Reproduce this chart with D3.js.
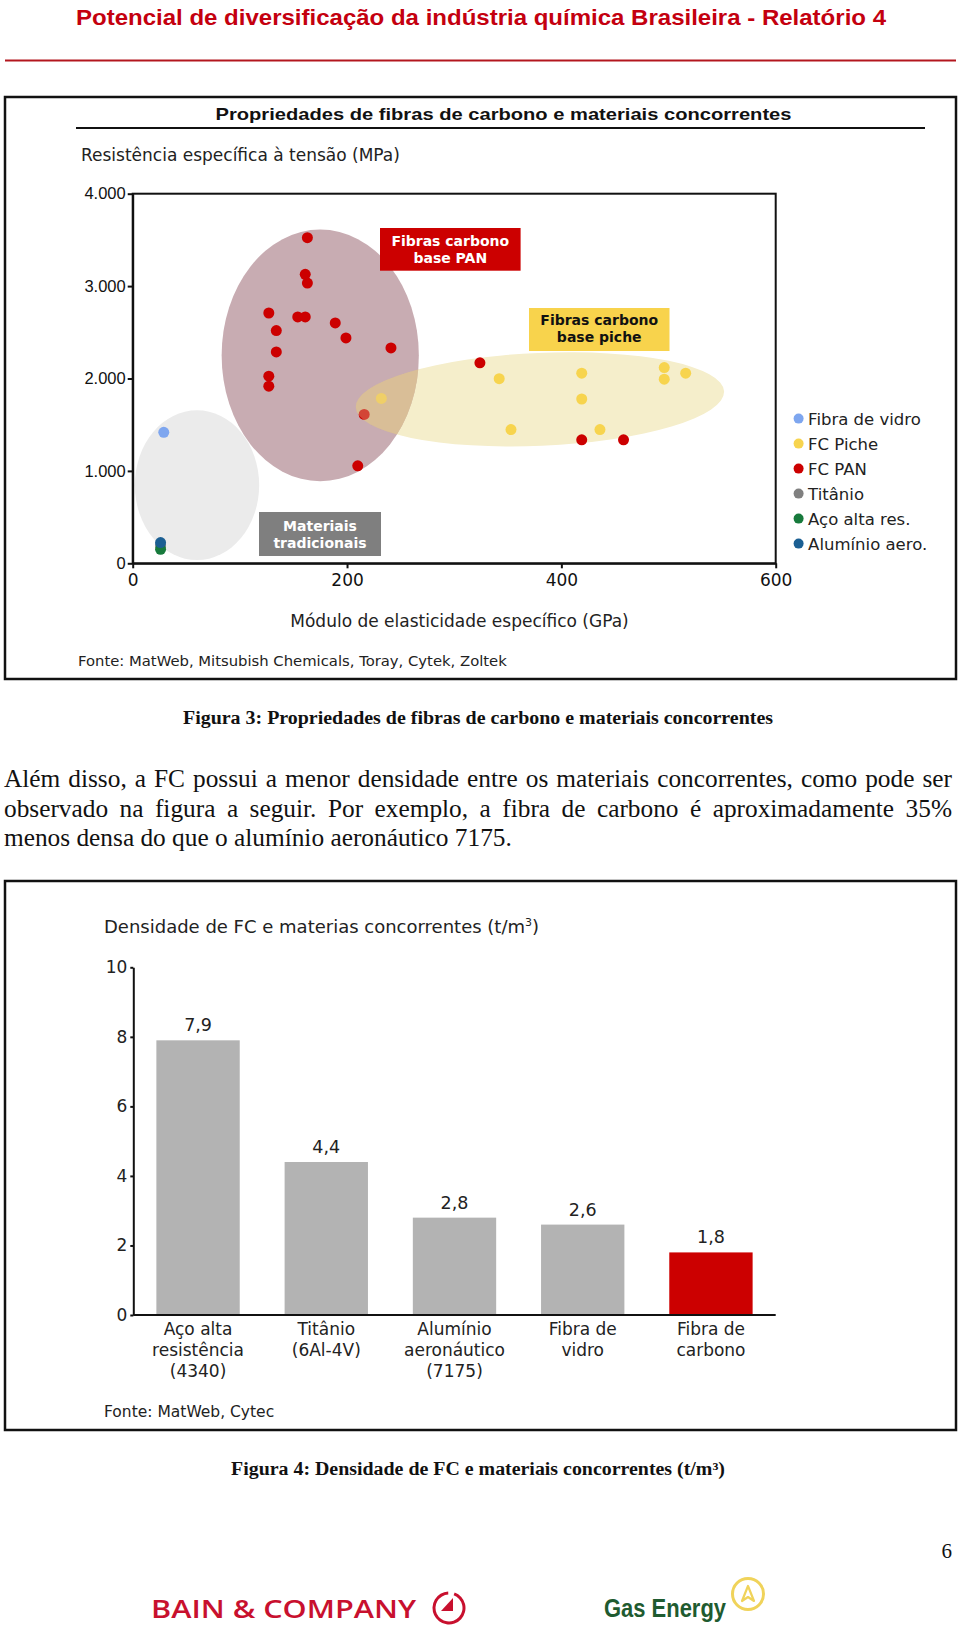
<!DOCTYPE html>
<html><head><meta charset="utf-8">
<script src="https://cdn.jsdelivr.net/npm/d3@7"></script>
<style>body{margin:0;background:#fff}svg{display:block}</style>
</head><body>
<svg id="page" width="960" height="1632"></svg>
<script>
// ---------- DATA ----------
// Figure 3 (scatter): [specific modulus GPa, specific tensile strength MPa]
const xTicks = [0, 200, 400, 600];
const yTicks = [0, 1000, 2000, 3000, 4000];
const yTickLabels = ["0", "1.000", "2.000", "3.000", "4.000"];
const fibraVidro = [[29, 1418]];
const fcPiche = [[342, 1998], [419, 2058], [496, 2118], [496, 1993], [516, 2058], [419, 1778], [232, 1784], [353, 1447], [436, 1447]];
const fcPan = [[163, 3524], [161, 3127], [163, 3033], [127, 2709], [134, 2519], [134, 2288], [127, 2025], [127, 1917], [154, 2666], [161, 2666], [189, 2601], [199, 2439], [241, 2331], [324, 2170], [216, 1611], [210, 1055], [419, 1336], [458, 1336]];
const titanio = [[26, 190]];
const acoAltaRes = [[26, 152]];
const aluminioAero = [[26, 224]];
const seriesNames = ["Fibra de vidro", "FC Piche", "FC PAN", "Titânio", "Aço alta res.", "Alumínio aero."];
// grouping ellipses: [centerX, centerY, radiusX, radiusY] in data units
const ellipseTradicionais = [60, 846, 58, 811];
const ellipsePan = [175, 2250, 92, 1362];
const ellipsePiche = [380, 1774, 172, 503];

// Figure 4 (bars)
const barCategories = [["Aço alta", "resistência", "(4340)"], ["Titânio", "(6Al-4V)"], ["Alumínio", "aeronáutico", "(7175)"], ["Fibra de", "vidro"], ["Fibra de", "carbono"]];
const barValues = [7.9, 4.4, 2.8, 2.6, 1.8];
const barValueLabels = ["7,9", "4,4", "2,8", "2,6", "1,8"];
const barTicks = [0, 2, 4, 6, 8, 10];

// Texts
const paragraph = [
  "Além disso, a FC possui a menor densidade entre os materiais concorrentes, como pode ser",
  "observado na figura a seguir. Por exemplo, a fibra de carbono é aproximadamente 35%",
  "menos densa do que o alumínio aeronáutico 7175."
];

// ---------- DRAW ----------
const svg = d3.select("#page");
const SANS = "'DejaVu Sans', Verdana, sans-serif";
const ARIAL = "'Liberation Sans', Arial, sans-serif";
const SERIF = "'Liberation Serif', 'Times New Roman', serif";

// Header
svg.append("text").attr("x", 76).attr("y", 25).attr("textLength", 810).attr("lengthAdjust", "spacingAndGlyphs")
  .style("font", `bold 22px ${ARIAL}`).attr("fill", "#c4000f")
  .text("Potencial de diversificação da indústria química Brasileira - Relatório 4");
svg.append("line").attr("x1", 5).attr("x2", 956).attr("y1", 60.5).attr("y2", 60.5).attr("stroke", "#b3161e").attr("stroke-width", 2);

// Box 1
svg.append("rect").attr("x", 5).attr("y", 97).attr("width", 951).attr("height", 582)
  .attr("fill", "none").attr("stroke", "#111").attr("stroke-width", 2.5);
svg.append("text").attr("x", 215.5).attr("y", 120).attr("textLength", 576).attr("lengthAdjust", "spacingAndGlyphs")
  .style("font", `bold 17px ${ARIAL}`).attr("fill", "#111")
  .text("Propriedades de fibras de carbono e materiais concorrentes");
svg.append("line").attr("x1", 76).attr("x2", 925).attr("y1", 128).attr("y2", 128).attr("stroke", "#111").attr("stroke-width", 2);
svg.append("text").attr("x", 81).attr("y", 161).style("font", `17px ${SANS}`).attr("fill", "#222")
  .text("Resistência específica à tensão (MPa)");

const x = d3.scaleLinear().domain([0, 600]).range([132.7, 775.7]);
const y = d3.scaleLinear().domain([0, 4000]).range([563.3, 193.7]);

const defs = svg.append("defs");
function ellAttrs(sel, e) {
  sel.attr("cx", x(e[0])).attr("cy", y(e[1]))
    .attr("rx", x(e[0] + e[2]) - x(e[0])).attr("ry", y(e[1] - e[3]) - y(e[1]));
  return sel;
}
defs.append("clipPath").attr("id", "clipPiche").call(g => ellAttrs(g.append("ellipse"), ellipsePiche)
  .attr("transform", `rotate(-2.5 ${x(ellipsePiche[0])} ${y(ellipsePiche[1])})`));

const plot = svg.append("g");
ellAttrs(plot.append("ellipse"), ellipseTradicionais).attr("fill", "#ebebeb");
ellAttrs(plot.append("ellipse"), ellipsePiche).attr("fill", "#f5eecb")
  .attr("transform", `rotate(-2.5 ${x(ellipsePiche[0])} ${y(ellipsePiche[1])})`);
ellAttrs(plot.append("ellipse"), ellipsePan).attr("fill", "#c8acb2");
ellAttrs(plot.append("ellipse"), ellipsePan).attr("fill", "#dcc08a").attr("opacity", 0.7).attr("clip-path", "url(#clipPiche)");

const seriesData = [fibraVidro, fcPiche, fcPan, titanio, acoAltaRes, aluminioAero];
const seriesColors = ["#7ea6ef", "#f7d44e", "#cc0000", "#808080", "#177a3c", "#1b5f93"];
const drawOrder = [3, 4, 5, 0, 1, 2];
drawOrder.forEach(si => {
  plot.append("g").selectAll("circle").data(seriesData[si]).join("circle")
    .attr("cx", d => x(d[0])).attr("cy", d => y(d[1])).attr("r", 5.5).attr("fill", seriesColors[si]);
});
// overlap tint over points
ellAttrs(plot.append("ellipse"), ellipsePan).attr("fill", "#e0c79a").attr("opacity", 0.35).attr("clip-path", "url(#clipPiche)");

// frame
svg.append("rect").attr("x", x(0)).attr("y", y(4000)).attr("width", x(600) - x(0)).attr("height", y(0) - y(4000))
  .attr("fill", "none").attr("stroke", "#111").attr("stroke-width", 2);

const yAx = svg.append("g").attr("transform", `translate(${x(0)},0)`)
  .call(d3.axisLeft(y).tickValues(yTicks).tickFormat((d, i) => yTickLabels[i]).tickSize(5).tickPadding(2).tickSizeOuter(0));
yAx.selectAll("text").style("font", `16.5px ${ARIAL}`).attr("fill", "#111");
const xAx = svg.append("g").attr("transform", `translate(0,${y(0)})`)
  .call(d3.axisBottom(x).tickValues(xTicks).tickSize(5).tickPadding(6).tickSizeOuter(0));
xAx.selectAll("text").style("font", `17px ${SANS}`).attr("fill", "#111");
[yAx, xAx].forEach(a => { a.selectAll("line,path").attr("stroke", "#111").attr("stroke-width", 2); });

// annotation boxes
function labelBox(bx, by, bw, bh, fill, color, lines, baselines) {
  svg.append("rect").attr("x", bx).attr("y", by).attr("width", bw).attr("height", bh).attr("fill", fill);
  lines.forEach((t, i) => svg.append("text").attr("x", bx + bw / 2).attr("y", baselines[i]).attr("text-anchor", "middle")
    .style("font", `bold 14px ${SANS}`).attr("fill", color).text(t));
}
labelBox(380, 228, 140.6, 42.7, "#cc0000", "#fff", ["Fibras carbono", "base PAN"], [245.5, 263]);
labelBox(529, 308, 140.5, 43, "#f8d34c", "#111", ["Fibras carbono", "base piche"], [324.5, 342]);
labelBox(259, 512, 122, 44, "#7f7f7f", "#fff", ["Materiais", "tradicionais"], [530.5, 548]);

// legend
const leg = svg.append("g").selectAll("g").data(seriesNames).join("g")
  .attr("transform", (d, i) => `translate(798.6,${418.6 + i * 25})`);
leg.append("circle").attr("r", 5).attr("fill", (d, i) => seriesColors[i]);
leg.append("text").attr("x", 9.5).attr("dy", "0.36em").style("font", `16.5px ${SANS}`).attr("fill", "#222").text(d => d);

svg.append("text").attr("x", 459.5).attr("y", 627).attr("text-anchor", "middle").style("font", `17px ${SANS}`).attr("fill", "#222")
  .text("Módulo de elasticidade específico (GPa)");
svg.append("text").attr("x", 78).attr("y", 665.5).style("font", `14.8px ${SANS}`).attr("fill", "#222")
  .text("Fonte: MatWeb, Mitsubish Chemicals, Toray, Cytek, Zoltek");

// Caption 3
svg.append("text").attr("x", 183).attr("y", 724).attr("textLength", 590).attr("lengthAdjust", "spacingAndGlyphs")
  .style("font", `bold 18px ${SERIF}`).attr("fill", "#111")
  .text("Figura 3: Propriedades de fibras de carbono e materiais concorrentes");

// Paragraph
const pBase = [787, 817, 846];
const pLines = paragraph.map((t, i) => svg.append("text").attr("x", 4).attr("y", pBase[i])
  .style("font-family", SERIF).style("font-size", "20px").attr("fill", "#111").text(t));
const w3 = pLines[2].node().getComputedTextLength();
const fs = 20 * 508 / w3;
pLines.forEach(p => p.style("font-size", fs + "px"));
[0, 1].forEach(i => {
  const nat = pLines[i].node().getComputedTextLength();
  const spaces = paragraph[i].split(" ").length - 1;
  pLines[i].style("word-spacing", ((948 - nat) / spaces) + "px");
});

// Box 2
svg.append("rect").attr("x", 5).attr("y", 881).attr("width", 951).attr("height", 549)
  .attr("fill", "none").attr("stroke", "#111").attr("stroke-width", 2.5);
const bt = svg.append("text").attr("x", 104).attr("y", 933).style("font", `18px ${SANS}`).attr("fill", "#222");
bt.append("tspan").text("Densidade de FC e materias concorrentes (t/m");
bt.append("tspan").attr("dy", -7).style("font-size", "11px").text("3");
bt.append("tspan").attr("dy", 7).text(")");

const yb = d3.scaleLinear().domain([0, 10]).range([1315, 967.3]);
const xb = d3.scaleBand().domain(d3.range(barValues.length)).range([133.3, 775.7]).paddingInner(0.35).paddingOuter(0.18);
svg.append("g").selectAll("rect").data(barValues).join("rect")
  .attr("x", (d, i) => xb(i)).attr("width", xb.bandwidth())
  .attr("y", d => yb(d)).attr("height", d => yb(0) - yb(d))
  .attr("fill", (d, i) => barCategories[i].join(" ") === "Fibra de carbono" ? "#cc0000" : "#b3b3b3");
svg.append("g").selectAll("text").data(barValues).join("text")
  .attr("x", (d, i) => xb(i) + xb.bandwidth() / 2).attr("y", d => yb(d) - 9).attr("text-anchor", "middle")
  .style("font", `17.5px ${SANS}`).attr("fill", "#222").text((d, i) => barValueLabels[i]);
const cat = svg.append("g").selectAll("text").data(barCategories).join("text")
  .attr("text-anchor", "middle").style("font", `17px ${SANS}`).attr("fill", "#222");
cat.each(function (d, i) {
  d3.select(this).selectAll("tspan").data(d).join("tspan")
    .attr("x", xb(i) + xb.bandwidth() / 2).attr("y", (t, j) => 1334.5 + j * 21.3).text(t => t);
});
const ybAx = svg.append("g").attr("transform", `translate(133.3,0)`)
  .call(d3.axisLeft(yb).tickValues(barTicks).tickSize(3).tickPadding(3).tickSizeOuter(0));
ybAx.selectAll("text").style("font", `17px ${SANS}`).attr("fill", "#222");
ybAx.selectAll("line,path").attr("stroke", "#111").attr("stroke-width", 2);
svg.append("line").attr("x1", 133.3).attr("x2", 775.7).attr("y1", yb(0)).attr("y2", yb(0)).attr("stroke", "#111").attr("stroke-width", 2);
svg.append("text").attr("x", 104).attr("y", 1417).style("font", `15.5px ${SANS}`).attr("fill", "#222").text("Fonte: MatWeb, Cytec");

// Caption 4
svg.append("text").attr("x", 231).attr("y", 1475).attr("textLength", 494).attr("lengthAdjust", "spacingAndGlyphs")
  .style("font", `bold 18px ${SERIF}`).attr("fill", "#111")
  .text("Figura 4: Densidade de FC e materiais concorrentes (t/m³)");

// page number
svg.append("text").attr("x", 952).attr("y", 1558).attr("text-anchor", "end").style("font", `21px ${SERIF}`).attr("fill", "#111").text("6");

// Logos
svg.append("text").attr("x", 151).attr("y", 1618).attr("textLength", 265).attr("lengthAdjust", "spacingAndGlyphs")
  .style("font", `600 26px ${"'Open Sans', 'DejaVu Sans', sans-serif"}`).attr("fill", "#c8102e").text("BAIN & COMPANY");
const bain = svg.append("g").attr("transform", "translate(449,1608)");
bain.append("path").attr("d", d3.arc()({ innerRadius: 13.5, outerRadius: 16.5, startAngle: 0.35, endAngle: 2 * Math.PI - 0.05 })).attr("fill", "#c8102e");
bain.append("path").attr("d", "M4,-10 L4,3 L-8,3 Z").attr("fill", "#c8102e");
svg.append("text").attr("x", 604).attr("y", 1617).attr("textLength", 122).attr("lengthAdjust", "spacingAndGlyphs")
  .style("font", `bold 25px ${ARIAL}`).attr("fill", "#1f5b30").text("Gas Energy");
const ge = svg.append("g").attr("transform", "translate(748,1594)");
ge.append("circle").attr("r", 15.5).attr("fill", "none").attr("stroke", "#f0d35a").attr("stroke-width", 3);
ge.append("path").attr("d", "M-6,7 L0,-8 L6,7 L0,3 Z").attr("fill", "none").attr("stroke", "#f0d35a").attr("stroke-width", 2.2).attr("stroke-linejoin", "round");
</script>
</body></html>
